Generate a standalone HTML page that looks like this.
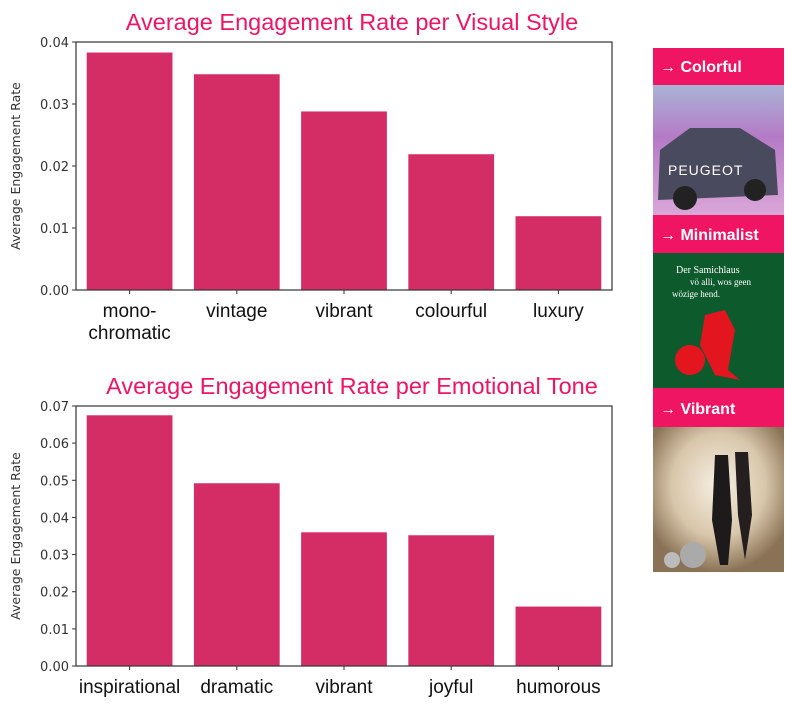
<!DOCTYPE html>
<html><head><meta charset="utf-8"><style>
body{margin:0;background:#fff;width:785px;height:705px;overflow:hidden;font-family:"Liberation Sans","DejaVu Sans",sans-serif}
svg{position:absolute;left:0;top:0}
.tick{font-family:"DejaVu Sans",sans-serif;font-size:13px;fill:#333}
.cat{font-family:"Liberation Sans",sans-serif;font-size:19px;fill:#111}
.title{font-family:"Liberation Sans",sans-serif;font-size:23.5px;fill:#ee1566}
.hdr{font-weight:bold;font-size:16px;fill:#fff}
</style></head><body>
<svg width="785" height="705">
<g id="c1"></g>
<g id="c2"></g>
<g>
<rect x="653" y="48" width="131" height="37" fill="#ef1563"/>
<text x="660" y="72" class="hdr">→ Colorful</text>
<defs><linearGradient id="g1" x1="0" y1="0" x2="0" y2="1"><stop offset="0" stop-color="#a9b4d6"/><stop offset="0.4" stop-color="#b57ac6"/><stop offset="1" stop-color="#d9a6d8"/></linearGradient>
<radialGradient id="g3" cx="0.5" cy="0.4" r="0.6"><stop offset="0" stop-color="#f6efe2"/><stop offset="0.6" stop-color="#d8c6aa"/><stop offset="1" stop-color="#8a7256"/></radialGradient></defs>
<rect x="653" y="85" width="131" height="130" fill="url(#g1)"/>
<path d="M658 200 L660 150 L690 128 L740 128 L775 150 L778 195 Z" fill="#4a4a5e"/>
<circle cx="685" cy="198" r="12" fill="#222"/><circle cx="755" cy="190" r="11" fill="#222"/>
<text x="668" y="175" font-size="14" fill="#fff" letter-spacing="1">PEUGEOT</text>
<rect x="653" y="215" width="131" height="38" fill="#ef1563"/>
<text x="660" y="240" class="hdr">→ Minimalist</text>
<rect x="653" y="253" width="131" height="135" fill="#0d5a2c"/>
<text x="676" y="273" font-family="Liberation Serif" font-size="10" fill="#fff">Der Samichlaus</text>
<text x="690" y="285" font-family="Liberation Serif" font-size="9" fill="#fff">vö alli, wos geen</text>
<text x="672" y="297" font-family="Liberation Serif" font-size="9" fill="#fff">wözige hend.</text>
<circle cx="690" cy="360" r="15" fill="#e3151f"/><path d="M705 315 L725 310 L735 330 L728 370 L740 380 L715 375 L700 345 Z" fill="#e3151f"/>
<rect x="653" y="388" width="131" height="39" fill="#ef1563"/>
<text x="660" y="414" class="hdr">→ Vibrant</text>
<rect x="653" y="427" width="131" height="145" fill="url(#g3)"/>
<path d="M715 455 L728 455 L732 520 L728 565 L720 565 L712 520 Z" fill="#1c1a1a"/>
<path d="M735 452 L748 452 L752 515 L745 560 L738 515 Z" fill="#241f1e"/>
<circle cx="693" cy="555" r="13" fill="#aaa"/><circle cx="672" cy="560" r="8" fill="#bbb"/>
</g>
</svg>
<script>
const cats1=["mono-\nchromatic","vintage","vibrant","colourful","luxury"];
const vals1=[0.0383,0.0348,0.0288,0.0219,0.0119];
const ticks1=["0.00","0.01","0.02","0.03","0.04"];
const cats2=["inspirational","dramatic","vibrant","joyful","humorous"];
const vals2=[0.0675,0.0492,0.0360,0.0352,0.0160];
const ticks2=["0.00","0.01","0.02","0.03","0.04","0.05","0.06","0.07"];
const NS="http://www.w3.org/2000/svg";
function mk(p,t,a){const e=document.createElementNS(NS,t);for(const k in a)e.setAttribute(k,a[k]);p.appendChild(e);return e;}
function draw(g,cats,vals,ticks,top,bot,ymax,title,tname,tsize){
  const L=76,R=612;
  const y=v=>bot-(v/ymax)*(bot-top);
  const band=(R-L)/cats.length;
  const x=i=>L+band*i+band*0.1;
  const t=mk(g,"text",{x:(L+R)/2+8,y:top-12,"text-anchor":"middle",class:"title","font-size":tsize});
  
  
  t.textContent=title;
  cats.forEach((c,i)=>{
    const r=mk(g,"rect",{x:x(i),y:y(vals[i]),width:band*0.8,height:bot-y(vals[i]),fill:"#d42d66"});
    
    
    const cx=x(i)+band*0.4;
    mk(g,"line",{x1:cx,x2:cx,y1:bot,y2:bot+4,stroke:"#333"});
    c.split("\n").forEach((ln,j)=>{
      const tx=mk(g,"text",{x:cx,y:bot+27+j*22,"text-anchor":"middle",class:"cat"});
      
      
      tx.textContent=ln;
    });
  });
  ticks.forEach(tk=>{
    const v=parseFloat(tk);
    mk(g,"line",{x1:L-4,x2:L,y1:y(v),y2:y(v),stroke:"#333"});
    const tx=mk(g,"text",{x:L-7,y:y(v)+5,"text-anchor":"end",class:"tick"});
    
    
    tx.textContent=tk;
  });
  const f=mk(g,"rect",{x:L,y:top,width:R-L,height:bot-top,fill:"none",stroke:"#333","stroke-width":1.2});
  
  
  const yt=mk(g,"text",{transform:`translate(20,${(top+bot)/2}) rotate(-90)`,"text-anchor":"middle","font-size":"12.5","font-family":"DejaVu Sans",fill:"#333"});
  
  
  yt.textContent="Average Engagement Rate";
}
draw(document.getElementById("c1"),cats1,vals1,ticks1,42,290,0.04,"Average Engagement Rate per Visual Style","chart-title-visual-style","24.5");
draw(document.getElementById("c2"),cats2,vals2,ticks2,406,666,0.07,"Average Engagement Rate per Emotional Tone","chart-title-emotional-tone","25");
</script>
</body></html>
